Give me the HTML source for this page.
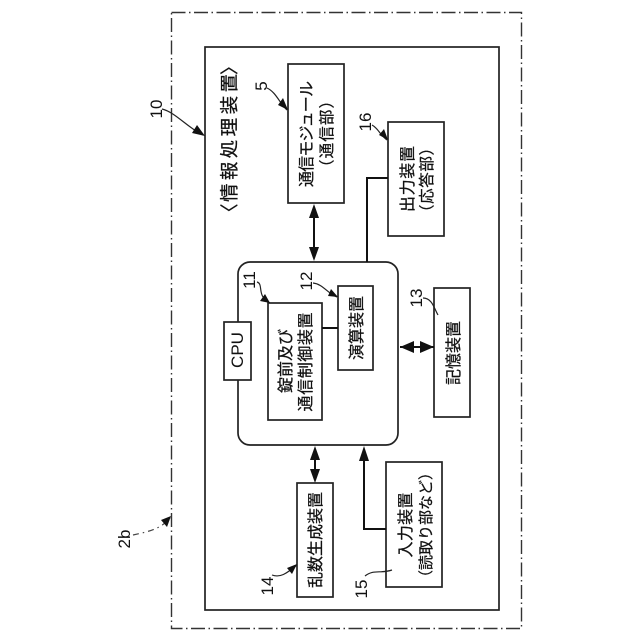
<!DOCTYPE html>
<html><head><meta charset="utf-8"><style>
html,body{margin:0;padding:0;background:#fff}
svg{display:block}
text{font-family:"Liberation Sans","Noto Sans CJK JP",sans-serif;fill:#111;text-anchor:middle}
.j{stroke:#111;stroke-width:.25}
.b{fill:#fff;stroke:#222;stroke-width:1.7}
.l{fill:none;stroke:#111;stroke-width:2}
.t{fill:none;stroke:#222;stroke-width:1.2}
.a{fill:#111;stroke:none}
</style></head><body>
<svg width="640" height="640" viewBox="0 0 640 640" xmlns="http://www.w3.org/2000/svg">
<rect x="171.5" y="12.5" width="350" height="616" fill="none" stroke="#333" stroke-width="1.4" stroke-dasharray="14 3.5 1.5 3.5"/>
<rect class="b" x="205" y="47" width="294" height="563"/>
<rect class="b" x="288" y="64" width="56" height="139"/>
<rect class="b" x="388" y="122" width="56" height="114"/>
<rect class="b" x="238" y="262" width="160" height="183" rx="12"/>
<rect class="b" x="224" y="322" width="27" height="58"/>
<rect class="b" x="268" y="303" width="54" height="117"/>
<rect class="b" x="338" y="286" width="35" height="84"/>
<rect class="b" x="434" y="288" width="36" height="129"/>
<rect class="b" x="297" y="483" width="36" height="114"/>
<rect class="b" x="386" y="462" width="56" height="125"/>
<path class="l" d="M322 328H338M314 212V254M400 347H434M315 454V476M367 262V178H388M364 455V529H386"/>
<path class="a" d="M314 204L309 218H319ZM314 261L309 247H319ZM400 347L414 341V353ZM434 347L420 341V353ZM315 446L310 460H320ZM315 483L310 469H320ZM364 446L359 461H369Z"/>
<path class="t" d="M267 88C276 92 280 104 287 110M162 109C175 112 188 128 203 135M372 125C378 128 380 135 387 140M257 282C264 284 256 296 270 303M313 283C323 284 328 294 337 297M423 298C432 298 434 308 438 315M272 575C280 578 286 574 297 565M365 576C374 569 380 574 392 570"/>
<path class="a" d="M288 110L278 105L283 98ZM205 136L192 133L197 125ZM388 140L379 135L384 129ZM270 303L260 301L265 294ZM338 297L328 296L331 289ZM297 564L292 574L287 568Z"/>
<path d="M133 535C146 532 160 530 170 518" fill="none" stroke="#444" stroke-width="1.2" stroke-dasharray="6 4 1.5 4"/>
<path class="a" d="M171 516L161 520L167 527Z"/>
<g class="j" font-size="18.5">
<text transform="translate(236 138) rotate(-90)" textLength="128" lengthAdjust="spacing">情報処理装置</text>
<text transform="translate(236 222) rotate(-90)" style="text-anchor:start">〈</text>
<text transform="translate(236 75) rotate(-90)" style="text-anchor:start">〉</text>
</g>
<g class="j" font-size="16">
<text transform="translate(312 134) rotate(-90)" textLength="106" lengthAdjust="spacing">通信モジュール</text>
<text transform="translate(332 134) rotate(-90)" font-size="15.5" textLength="82" lengthAdjust="spacing">（通信部）</text>
<text transform="translate(413 179) rotate(-90)" textLength="66" lengthAdjust="spacing">出力装置</text>
<text transform="translate(432 180) rotate(-90)" font-size="15.5" textLength="80" lengthAdjust="spacing">（応答部）</text>
<text transform="translate(362 328) rotate(-90)" textLength="64" lengthAdjust="spacing">演算装置</text>
<text transform="translate(291 361) rotate(-90)" textLength="64" lengthAdjust="spacing">錠前及び</text>
<text transform="translate(311 362) rotate(-90)" textLength="99" lengthAdjust="spacing">通信制御装置</text>
<text transform="translate(459 353) rotate(-90)" textLength="64" lengthAdjust="spacing">記憶装置</text>
<text transform="translate(321 540) rotate(-90)" textLength="96" lengthAdjust="spacing">乱数生成装置</text>
<text transform="translate(411 525) rotate(-90)" textLength="65" lengthAdjust="spacing">入力装置</text>
<text transform="translate(431 525) rotate(-90)" font-size="15" textLength="120" lengthAdjust="spacing">（読取り部など）</text>
</g>
<text transform="translate(243 350) rotate(-90)" font-size="17">CPU</text>
<g font-size="17">
<text transform="translate(267 86) rotate(-90)">5</text>
<text transform="translate(371 122) rotate(-90)">16</text>
<text transform="translate(162 109) rotate(-90)">10</text>
<text transform="translate(255 280) rotate(-90)">11</text>
<text transform="translate(312 281) rotate(-90)">12</text>
<text transform="translate(422 298) rotate(-90)">13</text>
<text transform="translate(273 586) rotate(-90)">14</text>
<text transform="translate(367 589) rotate(-90)">15</text>
<text transform="translate(130 539) rotate(-90)">2b</text>
</g>
</svg>
</body></html>
